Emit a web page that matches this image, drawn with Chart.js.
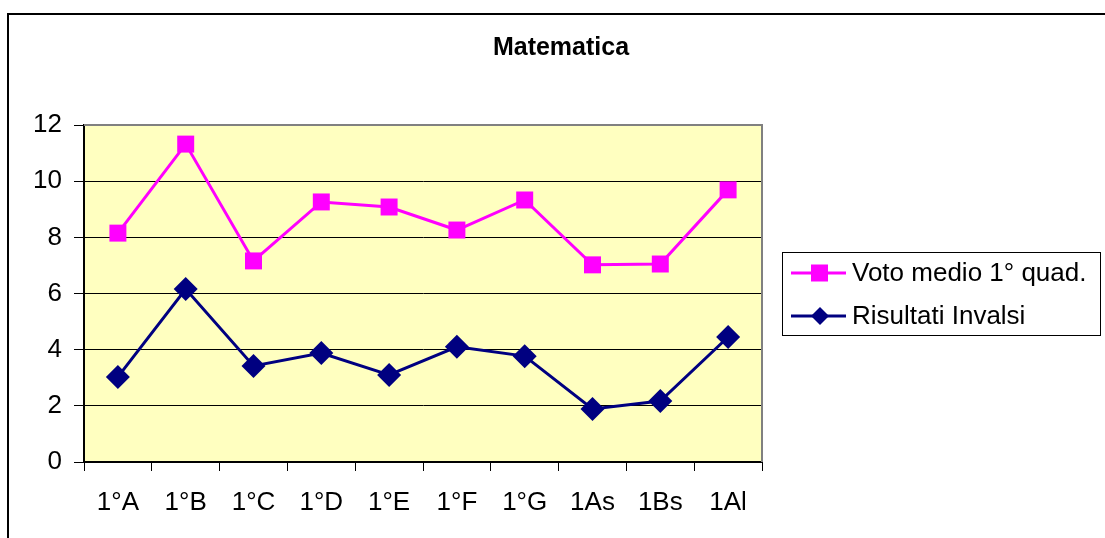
<!DOCTYPE html>
<html>
<head>
<meta charset="utf-8">
<script src="https://cdn.jsdelivr.net/npm/chart.js@4/dist/chart.umd.min.js"></script>
<style>
html,body{margin:0;padding:0;background:#fff;}
#wrap{width:1105px;height:538px;position:relative;}
</style>
</head>
<body>
<div id="wrap"><canvas id="c" width="1105" height="538"></canvas></div>
<script>
const categories = ["1°A","1°B","1°C","1°D","1°E","1°F","1°G","1As","1Bs","1Al"];
const votoMedio = [8.15, 11.32, 7.16, 9.26, 9.08, 8.26, 9.33, 7.02, 7.05, 9.69];
const invalsi = [3.03, 6.16, 3.42, 3.88, 3.10, 4.10, 3.77, 1.89, 2.17, 4.45];
const yTicks = [0, 2, 4, 6, 8, 10, 12];
const chartTitle = "Matematica";
const seriesNames = ["Voto medio 1° quad.", "Risultati Invalsi"];

const FONT = "'Liberation Sans', Arial, sans-serif";

const framePlugin = {
  id: 'frame',
  beforeDraw(chart) {
    const ctx = chart.ctx;
    const a = chart.chartArea;
    ctx.save();
    ctx.fillStyle = '#ffffc0';
    ctx.fillRect(a.left, a.top, a.right - a.left, a.bottom - a.top);
    // outer frame
    ctx.strokeStyle = '#000';
    ctx.lineWidth = 2;
    ctx.beginPath();
    ctx.moveTo(8, 538);
    ctx.lineTo(8, 14);
    ctx.lineTo(1105, 14);
    ctx.stroke();
    // title
    ctx.fillStyle = '#000';
    ctx.font = 'bold 25px ' + FONT;
    ctx.textAlign = 'center';
    ctx.textBaseline = 'alphabetic';
    ctx.fillText(chartTitle, 561, 55);
    ctx.restore();
  },
  afterDatasetsDraw(chart) {
    const ctx = chart.ctx;
    const a = chart.chartArea;
    ctx.save();
    ctx.strokeStyle = '#808080';
    ctx.lineWidth = 2;
    ctx.beginPath();
    ctx.moveTo(a.left, a.top);
    ctx.lineTo(a.right, a.top);
    ctx.lineTo(a.right, a.bottom);
    ctx.stroke();
    ctx.restore();
  },
  afterDraw(chart) {
    // legend
    const ctx = chart.ctx;
    const x0 = 782, y0 = 252, w = 318, h = 83;
    ctx.save();
    ctx.fillStyle = '#fff';
    ctx.fillRect(x0, y0, w, h);
    ctx.strokeStyle = '#000';
    ctx.lineWidth = 1;
    ctx.strokeRect(x0 + 0.5, y0 + 0.5, w, h);
    const rows = [273, 316];
    chart.data.datasets.forEach((ds, i) => {
      const y = rows[i];
      ctx.strokeStyle = ds.borderColor;
      ctx.lineWidth = 3;
      ctx.beginPath();
      ctx.moveTo(791, y);
      ctx.lineTo(846, y);
      ctx.stroke();
      ctx.fillStyle = ds.backgroundColor;
      if (i === 0) {
        ctx.fillRect(811, y - 8.5, 17, 17);
      } else {
        ctx.beginPath();
        ctx.moveTo(820, y - 9);
        ctx.lineTo(829, y);
        ctx.lineTo(820, y + 9);
        ctx.lineTo(811, y);
        ctx.closePath();
        ctx.fill();
      }
      ctx.fillStyle = '#000';
      ctx.font = '26px ' + FONT;
      ctx.textBaseline = 'middle';
      ctx.textAlign = 'left';
      ctx.fillText(ds.label, 852, y + 1);
    });
    ctx.restore();
  }
};

new Chart(document.getElementById('c'), {
  type: 'line',
  data: {
    labels: categories,
    datasets: [
      {
        label: seriesNames[0],
        data: votoMedio,
        borderColor: '#ff00ff',
        backgroundColor: '#ff00ff',
        borderWidth: 3,
        pointStyle: 'rect',
        pointRadius: 12,
        pointBorderWidth: 0,
        pointHoverRadius: 12,
        tension: 0
      },
      {
        label: seriesNames[1],
        data: invalsi,
        borderColor: '#000080',
        backgroundColor: '#000080',
        borderWidth: 3,
        pointStyle: 'rectRot',
        pointRadius: 12,
        pointBorderWidth: 0,
        pointHoverRadius: 12,
        tension: 0
      }
    ]
  },
  options: {
    responsive: false,
    animation: false,
    events: [],
    layout: { padding: { left: 0, right: 343, top: 125, bottom: 26 } },
    plugins: {
      legend: { display: false },
      tooltip: { enabled: false },
      title: { display: false }
    },
    scales: {
      x: {
        offset: true,
        afterFit(scale) { scale.height = 50; },
        border: { display: true, color: '#000', width: 2 },
        grid: { display: true, offset: true, drawOnChartArea: false, drawTicks: true, tickLength: 9, color: '#000', lineWidth: 1 },
        ticks: { color: '#000', font: { family: FONT, size: 26 }, padding: 16, maxRotation: 0, autoSkip: false }
      },
      y: {
        min: 0,
        max: 12,
        afterFit(scale) { scale.width = 84; },
        afterBuildTicks(scale) { scale.ticks = yTicks.map(v => ({ value: v })); },
        border: { display: true, color: '#000', width: 2 },
        grid: { display: true, drawTicks: true, tickLength: 10, color: '#000', lineWidth: 1 },
        ticks: { color: '#000', font: { family: FONT, size: 26 }, padding: 12 }
      }
    }
  },
  plugins: [framePlugin]
});
</script>
</body>
</html>
